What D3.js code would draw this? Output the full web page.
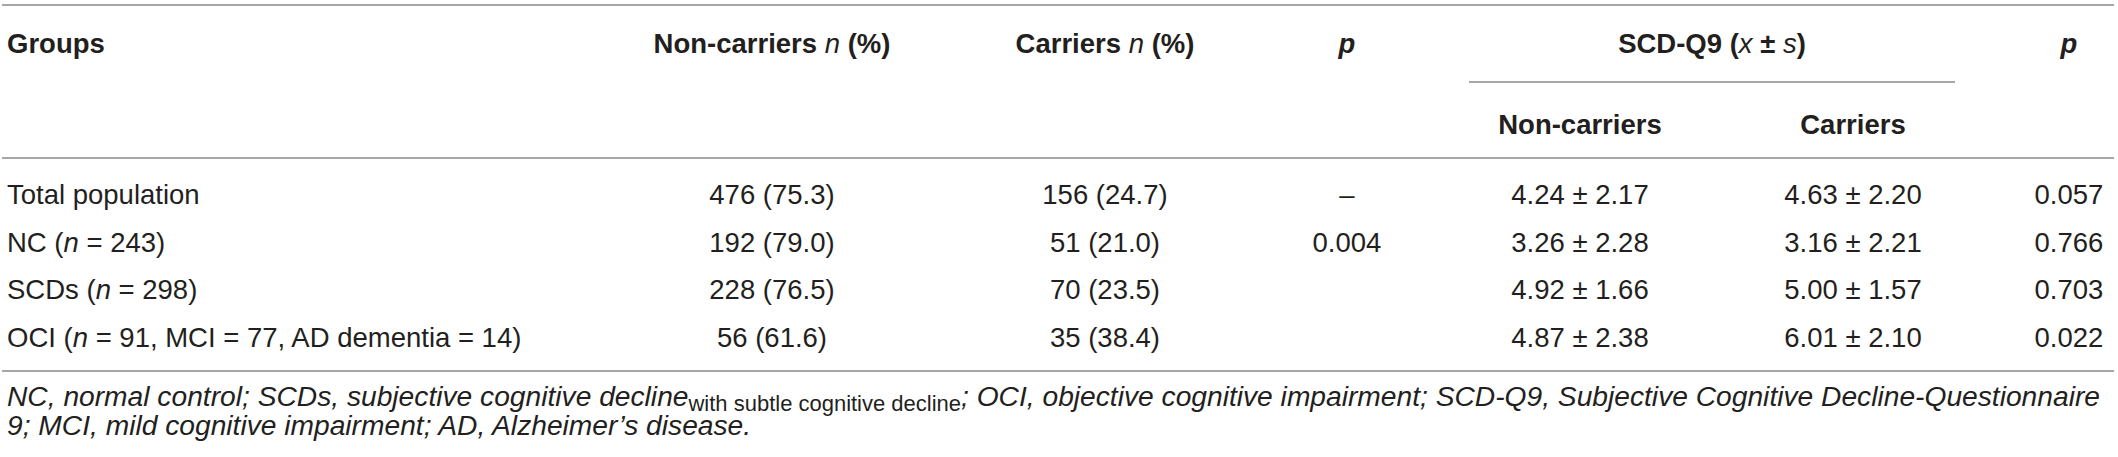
<!DOCTYPE html>
<html>
<head>
<meta charset="utf-8">
<script src="https://cdn.jsdelivr.net/npm/d3@7/dist/d3.min.js"></script>
<style>
  html, body { margin: 0; padding: 0; background: #ffffff; }
  svg { display: block; }
</style>
</head>
<body>
<svg id="chart" width="2118" height="457"></svg>
<script>
// ---------------- data ----------------
const groups = ["Total population", "NC (*n* = 243)", "SCDs (*n* = 298)", "OCI (*n* = 91, MCI = 77, AD dementia = 14)"];
const nonCarriersN = [476, 192, 228, 56];
const nonCarriersPct = [75.3, 79.0, 76.5, 61.6];
const carriersN = [156, 51, 70, 35];
const carriersPct = [24.7, 21.0, 23.5, 38.4];
const pCarrier = ["–", "0.004", "", ""];
const scdNonMean = [4.24, 3.26, 4.92, 4.87];
const scdNonSd = [2.17, 2.28, 1.66, 2.38];
const scdCarMean = [4.63, 3.16, 5.00, 6.01];
const scdCarSd = [2.20, 2.21, 1.57, 2.10];
const pScd = ["0.057", "0.766", "0.703", "0.022"];

const headerTop = ["**Groups**", "**Non-carriers ***n*** (%)**", "**Carriers ***n*** (%)**", "***p***", "**SCD-Q9 (***x*** ± ***s***)**", "***p***"];
const headerSub = ["**Non-carriers**", "**Carriers**"];

const footLine1 = ["*NC, normal control; SCDs, subjective cognitive decline*", "_with subtle cognitive decline_", "*; OCI, objective cognitive impairment; SCD-Q9, Subjective Cognitive Decline-Questionnaire*"];
const footLine2 = ["*9; MCI, mild cognitive impairment; AD, Alzheimer’s disease.*"];

// ---------------- layout ----------------
const W = 2118, H = 457;
const svg = d3.select("#chart");
const FONT = "'Liberation Sans', Arial, Helvetica, sans-serif";
const INK = "#231f20";
const RULE = "#8a8a8a";
const FS = 27.5;

const colX = { groups: 7, non: 772, car: 1105, p1: 1347, scdNon: 1580, scdCar: 1853, p2: 2069 };
const y = d3.scalePoint().domain(d3.range(groups.length)).range([204, 346.5]);

const f1 = d3.format(".1f"), f2 = d3.format(".2f");

// parse markup: **bold**, *italic*
function segments(str) {
  const out = [];
  let bold = false, ital = false, buf = "";
  let i = 0;
  const push = () => { if (buf) { out.push({ t: buf, b: bold, i: ital }); buf = ""; } };
  while (i < str.length) {
    if (str.startsWith("**", i)) { push(); bold = !bold; i += 2; }
    else if (str[i] === "*") { push(); ital = !ital; i += 1; }
    else { buf += str[i]; i += 1; }
  }
  push();
  return out;
}

function richText(g, str, x, yy, anchor, size) {
  const t = g.append("text")
    .attr("x", x).attr("y", yy)
    .attr("text-anchor", anchor)
    .attr("font-family", FONT)
    .attr("font-size", size)
    .attr("fill", INK);
  segments(str).forEach(s => {
    t.append("tspan")
      .attr("font-weight", s.b ? "bold" : "normal")
      .attr("font-style", s.i ? "italic" : "normal")
      .text(s.t);
  });
  return t;
}

// rules
const rules = [
  { x1: 2, x2: 2114, y: 5 },
  { x1: 2, x2: 2114, y: 158 },
  { x1: 1469, x2: 1955, y: 82 },
  { x1: 2, x2: 2114, y: 371 }
];
svg.append("g").selectAll("line").data(rules).join("line")
  .attr("x1", d => d.x1).attr("x2", d => d.x2)
  .attr("y1", d => d.y).attr("y2", d => d.y)
  .attr("stroke", RULE).attr("stroke-width", 1.6);

// header
const hg = svg.append("g");
const topX = [colX.groups, colX.non, colX.car, colX.p1, 1712, colX.p2];
headerTop.forEach((h, i) => richText(hg, h, topX[i], 53, i === 0 ? "start" : "middle", FS));
headerSub.forEach((h, i) => richText(hg, h, i === 0 ? colX.scdNon : colX.scdCar, 134, "middle", FS));

// body rows
const bg = svg.append("g");
groups.forEach((gname, i) => {
  const yy = y(i);
  richText(bg, gname, colX.groups, yy, "start", FS);
  richText(bg, `${nonCarriersN[i]} (${f1(nonCarriersPct[i])})`, colX.non, yy, "middle", FS);
  richText(bg, `${carriersN[i]} (${f1(carriersPct[i])})`, colX.car, yy, "middle", FS);
  if (pCarrier[i]) richText(bg, pCarrier[i], colX.p1, yy, "middle", FS);
  richText(bg, `${f2(scdNonMean[i])} ± ${f2(scdNonSd[i])}`, colX.scdNon, yy, "middle", FS);
  richText(bg, `${f2(scdCarMean[i])} ± ${f2(scdCarSd[i])}`, colX.scdCar, yy, "middle", FS);
  richText(bg, pScd[i], colX.p2, yy, "middle", FS);
});

// footnote
const fg = svg.append("g");
function footText(parts, yy, size) {
  const t = fg.append("text").attr("x", 7).attr("y", yy)
    .attr("font-family", FONT).attr("font-size", size).attr("fill", INK);
  parts.forEach((p, k) => {
    if (p.startsWith("_")) {
      t.append("tspan").attr("font-style", "normal").attr("font-size", size * 0.78)
        .attr("dy", 5).text(p.replace(/_/g, ""));
    } else {
      const ts = t.append("tspan").attr("font-style", "italic").text(p.replace(/\*/g, ""));
      if (k > 0) ts.attr("dy", -5);
    }
  });
  return t;
}
let fsz = 25;
let l1 = footText(footLine1, 406, fsz);
const w = l1.node().getComputedTextLength();
const target = 2101 - 7;
fsz = fsz * target / w;
l1.remove();
footText(footLine1, 406, fsz);
footText(footLine2, 435, fsz);
</script>
</body>
</html>
